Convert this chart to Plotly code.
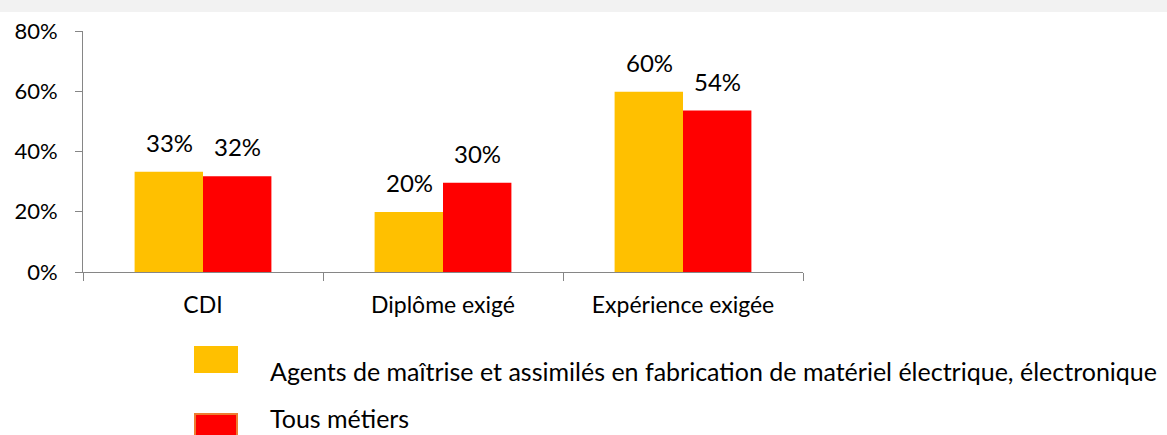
import plotly.graph_objects as go

categories = ["CDI", "Diplôme exigé", "Expérience exigée"]
series_names = ["Agents de maîtrise et assimilés en fabrication de matériel électrique, électronique", "Tous métiers"]
agents_values = [0.333, 0.199, 0.598]
tous_values = [0.318, 0.296, 0.536]
y_ticks = [0, 0.2, 0.4, 0.6, 0.8]
y_tick_labels = ["0%", "20%", "40%", "60%", "80%"]

colors = ["#FFC000", "#FF0000"]
W, H = 1167, 435
L, R, T, B = 83, 803, 31, 272
FONT = "Lato"

fig = go.Figure()
for name, vals, col in zip(series_names, [agents_values, tous_values], colors):
    fig.add_trace(go.Bar(x=categories, y=vals, name=name, marker=dict(color=col, line=dict(width=0)),
                         showlegend=False, hoverinfo="skip"))

# data labels
for i, vals in enumerate([agents_values, tous_values]):
    for c, v in zip(categories, vals):
        fig.add_annotation(x=c, y=v, text=f"{round(v*100)}%", showarrow=False,
                           xshift=(-34 if i == 0 else 34), yshift=13, yanchor="bottom",
                           font=dict(family=FONT, size=24, color="#000"))

def px(xp):
    return (xp - L) / (R - L)

def py(yp):
    return (B - yp) / (B - T)

shapes = []
# top grey band
shapes.append(dict(type="rect", xref="paper", yref="paper", x0=px(0), x1=px(W), y0=py(0), y1=py(12),
                   fillcolor="#F2F2F2", line=dict(width=0), layer="below"))
# legend swatches
shapes.append(dict(type="rect", xref="paper", yref="paper", x0=px(194), x1=px(238), y0=py(346), y1=py(373),
                   fillcolor=colors[0], line=dict(width=0)))
shapes.append(dict(type="rect", xref="paper", yref="paper", x0=px(195), x1=px(237), y0=py(414), y1=py(440),
                   fillcolor=colors[1], line=dict(width=2, color="#ED7D31")))
fig.update_layout(shapes=shapes)

fig.add_annotation(xref="paper", yref="paper", x=px(268), y=py(371), xanchor="left", yanchor="middle",
                   text=series_names[0], showarrow=False, font=dict(family=FONT, size=25, color="#000"))
fig.add_annotation(xref="paper", yref="paper", x=px(268), y=py(435), xanchor="left", yanchor="bottom",
                   text=series_names[1], showarrow=False, font=dict(family=FONT, size=25, color="#000"))

fig.update_layout(
    width=W, height=H,
    margin=dict(l=L, r=W - R, t=T, b=H - B, pad=0),
    paper_bgcolor="white", plot_bgcolor="white",
    barmode="group", bargap=0.43, bargroupgap=0,
    font=dict(family=FONT, color="#000"),
    hovermode=False,
    xaxis=dict(showline=True, linecolor="#868686", linewidth=1, ticks="outside", tickson="boundaries",
               ticklen=8, tickcolor="#868686", tickfont=dict(size=23, family=FONT), showgrid=False,
               ticklabelstandoff=12, zeroline=False),
    yaxis=dict(range=[0, 0.8], tickvals=y_ticks, ticktext=y_tick_labels, showline=True, linecolor="#868686",
               linewidth=1, ticks="outside", ticklen=7, tickcolor="#868686", showgrid=False, zeroline=False,
               tickfont=dict(size=22, family=FONT), ticklabelstandoff=13),
)

fig.write_html("out.html", config={"displayModeBar": False},
               post_script="document.body.style.margin='0';document.body.style.overflow='hidden';")
